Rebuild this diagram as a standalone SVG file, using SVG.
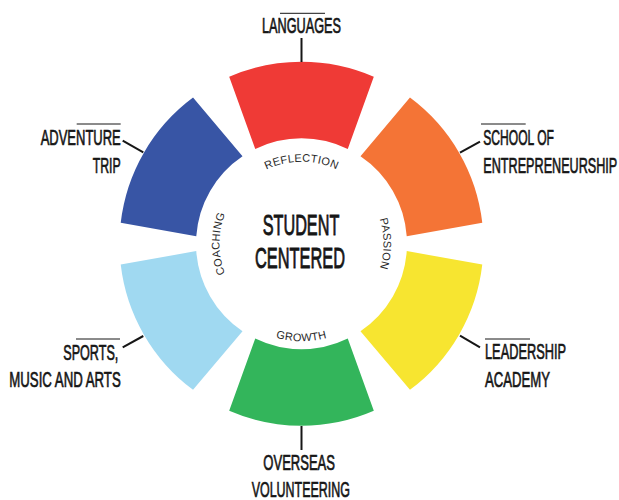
<svg xmlns="http://www.w3.org/2000/svg" width="619" height="500" viewBox="0 0 619 500">
<style>
.lbl{font-family:"Liberation Sans Narrow","Liberation Sans","DejaVu Sans Condensed",sans-serif;font-size:22px;fill:#161616;stroke:#161616;stroke-width:0.7px}
.ctr{font-family:"Liberation Sans Narrow","Liberation Sans","DejaVu Sans Condensed",sans-serif;font-size:30px;fill:#161616;stroke:#161616;stroke-width:0.9px}
.ring{font-family:"Liberation Sans",Arial,sans-serif;font-size:11px;fill:#2a2a2a;letter-spacing:0.3px}
.conn{stroke:#161616;stroke-width:2;fill:none}
.over{stroke:#161616;stroke-width:1;fill:none}
</style>
<defs>
<path id="seg" d="M-72.3,-167 A182,182 0 0 1 72.3,-167 L46.25,-94.82 A105.5,105.5 0 0 0 -46.25,-94.82 Z"/>
<path id="ringCW" d="M301.5,325.7 A82,82 0 1 1 301.5,161.7 A82,82 0 1 1 301.5,325.7"/>
<path id="ringBot" d="M204,243.7 A97.5,97.5 0 0 0 399,243.7"/>
</defs>
<rect width="619" height="500" fill="#fff"/>

<g id="languages">
<use href="#seg" fill="#EF3A36" transform="translate(301.5,243.7)"/>
<text class="lbl" x="262" y="33.3" textLength="79" lengthAdjust="spacingAndGlyphs">LANGUAGES</text>
<line class="over" x1="280" y1="13.3" x2="325" y2="13.3"/>
</g>
<g id="school">
<use href="#seg" fill="#F47436" transform="translate(301.5,243.7) rotate(60)"/>
<text class="lbl" x="483.3" y="145" textLength="70.7" lengthAdjust="spacingAndGlyphs">SCHOOL OF</text>
<text class="lbl" x="483.3" y="173.3" textLength="134" lengthAdjust="spacingAndGlyphs">ENTREPRENEURSHIP</text>
<line class="over" x1="481" y1="124" x2="525.7" y2="124"/>
</g>
<g id="leadership">
<use href="#seg" fill="#F7E530" transform="translate(301.5,243.7) rotate(120)"/>
<text class="lbl" x="485" y="359.3" textLength="81" lengthAdjust="spacingAndGlyphs">LEADERSHIP</text>
<text class="lbl" x="485" y="386.7" textLength="65" lengthAdjust="spacingAndGlyphs">ACADEMY</text>
<line class="over" x1="485" y1="339" x2="530" y2="339"/>
</g>
<g id="overseas">
<use href="#seg" fill="#33B55B" transform="translate(301.5,243.7) rotate(180)"/>
<text class="lbl" x="263.3" y="470" textLength="71.7" lengthAdjust="spacingAndGlyphs">OVERSEAS</text>
<text class="lbl" x="251.7" y="496.7" textLength="98.3" lengthAdjust="spacingAndGlyphs">VOLUNTEERING</text>
</g>
<g id="sports">
<use href="#seg" fill="#A0D9F1" transform="translate(301.5,243.7) rotate(240)"/>
<text class="lbl" x="63.3" y="360" textLength="55" lengthAdjust="spacingAndGlyphs">SPORTS,</text>
<text class="lbl" x="9.3" y="386.7" textLength="111.4" lengthAdjust="spacingAndGlyphs">MUSIC AND ARTS</text>
<line class="over" x1="76" y1="339" x2="120" y2="339"/>
</g>
<g id="adventure">
<use href="#seg" fill="#3855A5" transform="translate(301.5,243.7) rotate(300)"/>
<text class="lbl" x="40.7" y="145" textLength="80" lengthAdjust="spacingAndGlyphs">ADVENTURE</text>
<text class="lbl" x="92.7" y="173.3" textLength="28" lengthAdjust="spacingAndGlyphs">TRIP</text>
<line class="over" x1="76.7" y1="124" x2="120.7" y2="124"/>
</g>

<g id="center">
<text class="ctr" x="262.7" y="234.5" textLength="76.6" lengthAdjust="spacingAndGlyphs">STUDENT</text>
<text class="ctr" x="255" y="268" textLength="90" lengthAdjust="spacingAndGlyphs">CENTERED</text>
</g>

<g id="ring-labels">
<text class="ring"><textPath href="#ringCW" startOffset="25%" text-anchor="middle">COACHING</textPath></text>
<text class="ring"><textPath href="#ringCW" startOffset="50%" text-anchor="middle">REFLECTION</textPath></text>
<text class="ring"><textPath href="#ringCW" startOffset="75%" text-anchor="middle">PASSION</textPath></text>
<text class="ring"><textPath href="#ringBot" startOffset="50%" text-anchor="middle">GROWTH</textPath></text>
</g>

<g id="connectors">
<line class="conn" x1="301.5" y1="38" x2="301.5" y2="62"/>
<line class="conn" x1="460" y1="152.7" x2="480" y2="141.7"/>
<line class="conn" x1="460" y1="335.7" x2="480" y2="347.3"/>
<line class="conn" x1="301.5" y1="426" x2="301.5" y2="450"/>
<line class="conn" x1="122.7" y1="140.7" x2="143.3" y2="152.3"/>
<line class="conn" x1="122.7" y1="347.3" x2="143.3" y2="336"/>
</g>
</svg>
